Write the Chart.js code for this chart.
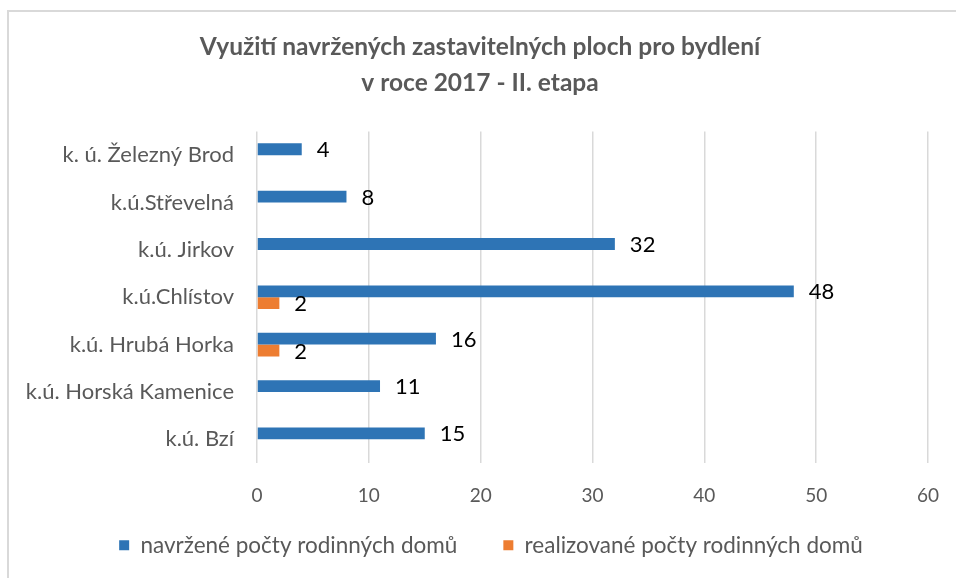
<!DOCTYPE html>
<html>
<head>
<meta charset="utf-8">
<script src="https://cdn.jsdelivr.net/npm/chart.js@4"></script>
<style>
  body { margin: 0; background: #fff; }
  #wrap { position: relative; width: 956px; height: 578px; }
  #frame { position: absolute; left: 7px; top: 10px; right: 0; bottom: 0;
           border-left: 2px solid #d9d9d9; border-top: 2px solid #d9d9d9; }
  canvas { position: absolute; left: 0; top: 0; }
</style>
</head>
<body>
<div id="wrap">
  <div id="frame"></div>
  <canvas id="chart" width="956" height="578"></canvas>
</div>
<script>
//data
const categories = ['k. ú. Železný Brod', 'k.ú.Střevelná', 'k.ú. Jirkov', 'k.ú.Chlístov',
                    'k.ú. Hrubá Horka', 'k.ú. Horská Kamenice', 'k.ú. Bzí'];
const navrzene = [4, 8, 32, 48, 16, 11, 15];
const realizovane = [null, null, null, 2, 2, null, null];
const seriesNames = ['navržené počty rodinných domů', 'realizované počty rodinných domů'];
const titleLines = ['Využití navržených zastavitelných ploch pro bydlení', 'v roce 2017 - II. etapa'];

const FONT = 'Lato, "Open Sans", sans-serif';
const GREY = '#595959';

// values next to bars
const barLabels = {
    id: 'barLabels',
    afterDatasetsDraw(chart) {
        const ctx = chart.ctx;
        ctx.save();
        ctx.font = '22px ' + FONT;
        ctx.fillStyle = '#000';
        ctx.textAlign = 'left';
        ctx.textBaseline = 'middle';
        chart.data.datasets.forEach((ds, i) => {
            chart.getDatasetMeta(i).data.forEach((bar, j) => {
                if (ds.data[j] == null) return;
                ctx.fillText(ds.data[j], bar.x + 15, bar.y + 1);
            });
        });
        ctx.restore();
    }
};

// legend sits closer to the axis than its item padding allows;
// title and legend are centred a bit right of the plot like in the original
const boxShift = {
    id: 'boxShift',
    afterLayout(chart) {
        const lg = chart.legend;
        lg.top = chart.chartArea.bottom + 25;
        lg.height = lg.bottom - lg.top;
        lg.left += 34;
        lg.width = lg.right - lg.left;
        const tb = chart.titleBlock;
        tb.left += 12;
        tb.width = tb.right - tb.left;
    }
};

const data = {
    labels: categories,
    datasets: [
        { label: seriesNames[0], data: navrzene, backgroundColor: '#2E74B5' },
        { label: seriesNames[1], data: realizovane, backgroundColor: '#ED7D31' }
    ]
};

const options = {
    indexAxis: 'y',
    responsive: false,
    animation: false,
    layout: { padding: { left: 20, right: 28, top: 10, bottom: 10 } },
    datasets: { bar: { categoryPercentage: 0.5, barPercentage: 1.0 } },
    scales: {
        x: {
            min: 0, max: 60,
            ticks: { stepSize: 10, color: GREY, font: { family: FONT, size: 19 }, padding: 21 },
            grid: { color: '#d9d9d9', lineWidth: 1.5, tickLength: 0 },
            border: { display: false },
            afterFit(scale) {
                scale.height = 48;
                scale.paddingLeft = 0;
                scale.paddingRight = 0;
            }
        },
        y: {
            ticks: { color: GREY, font: { family: FONT, size: 22 }, padding: 15 },
            grid: { display: false },
            border: { display: false },
            afterFit(scale) { scale.width = 237; }
        }
    },
    plugins: {
        title: {
            display: true,
            text: titleLines,
            color: GREY,
            font: { family: FONT, size: 24.5, weight: 'bold', lineHeight: 1.48 },
            padding: { top: 19, bottom: 30 }
        },
        legend: {
            position: 'bottom',
            maxHeight: 57,
            labels: {
                color: GREY,
                font: { family: FONT, size: 22.5 },
                boxWidth: 10, boxHeight: 10,
                padding: 46
            }
        },
        tooltip: { enabled: false }
    }
};

new Chart(document.getElementById('chart'), {
    type: 'bar',
    data: data,
    options,
    plugins: [barLabels, boxShift]
});
</script>
</body>
</html>
